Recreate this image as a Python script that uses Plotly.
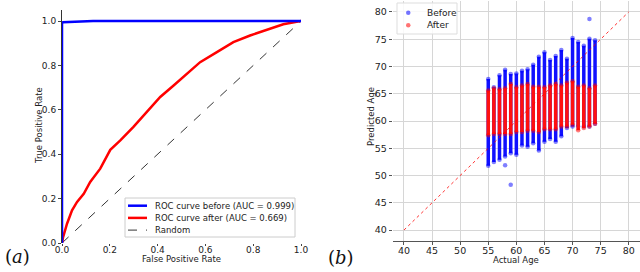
import plotly.graph_objects as go

# ---------- Panel (a): ROC curves ----------
roc_before_fpr = [0.0, 0.0, 0.0, 0.004, 0.13, 1.0]
roc_before_tpr = [0.0, 0.75, 0.99, 0.995, 1.0, 1.0]

roc_after_fpr = [0.0, 0.004, 0.021, 0.042, 0.063, 0.091, 0.118, 0.160, 0.202, 0.244,
                 0.299, 0.355, 0.411, 0.467, 0.522, 0.578, 0.648, 0.717, 0.787, 0.857,
                 0.926, 1.0]
roc_after_tpr = [0.0, 0.024, 0.087, 0.147, 0.185, 0.222, 0.275, 0.335, 0.420, 0.462,
                 0.523, 0.590, 0.658, 0.710, 0.763, 0.815, 0.860, 0.905, 0.935, 0.962,
                 0.986, 1.0]

random_x = [0, 1]
random_y = [0, 1]

legend_a_labels = ["ROC curve before (AUC = 0.999)", "ROC curve after (AUC = 0.669)", "Random"]

# ---------- Panel (b): predicted vs actual age ----------
ages = list(range(55, 75))
before_lo = [51.8, 52.5, 52.9, 53.5, 54.1, 53.8, 55.5, 55.3, 55.9, 54.6,
             56.2, 56.7, 56.2, 57.2, 58.7, 59.0, 59.0, 59.0, 59.0, 59.5]
before_hi = [67.7, 66.2, 68.4, 69.4, 68.6, 68.7, 69.2, 69.5, 70.3, 71.8,
             72.6, 71.2, 71.9, 73.0, 71.4, 75.2, 74.5, 73.8, 75.1, 74.8]
after_lo = [57.4, 57.6, 57.6, 57.6, 57.6, 58.0, 58.0, 58.2, 58.2, 58.0,
            58.5, 58.5, 58.5, 59.0, 59.0, 59.3, 58.3, 58.7, 59.0, 59.5]
after_hi = [65.6, 66.0, 65.8, 66.0, 66.8, 66.2, 66.5, 66.8, 66.3, 66.3,
            66.2, 66.5, 66.8, 66.5, 67.0, 67.3, 66.3, 66.5, 66.0, 66.5]
outlier_age = [59, 73, 58]
outlier_pred = [48.3, 78.7, 51.9]
diag = [40, 80]

legend_b_labels = ["Before", "After"]

x_ticks_b = [40, 45, 50, 55, 60, 65, 70, 75, 80]
y_ticks_b = [40, 45, 50, 55, 60, 65, 70, 75, 80]
ticks_a = [0.0, 0.2, 0.4, 0.6, 0.8, 1.0]


def segments(xs, lo, hi):
    sx, sy = [], []
    for a, l, h in zip(xs, lo, hi):
        sx += [a, a, None]
        sy += [l, h, None]
    return sx, sy


W, H = 640, 272
BLUE = "#0000ff"
RED = "#ff0000"


def px(x):
    return x / W


def py(y):
    return (H - y) / H


fig = go.Figure()

# (a)
fig.add_trace(go.Scatter(x=random_x, y=random_y, mode="lines",
                         line=dict(color="black", width=0.8, dash="dash"),
                         showlegend=False, xaxis="x", yaxis="y"))
fig.add_trace(go.Scatter(x=roc_after_fpr, y=roc_after_tpr, mode="lines",
                         line=dict(color=RED, width=2.5),
                         showlegend=False, xaxis="x", yaxis="y"))
fig.add_trace(go.Scatter(x=roc_before_fpr, y=roc_before_tpr, mode="lines",
                         line=dict(color=BLUE, width=2.5),
                         showlegend=False, xaxis="x", yaxis="y"))

# (b)
bx, by = segments(ages, before_lo, before_hi)
fig.add_trace(go.Scatter(x=bx, y=by, mode="lines+markers",
                         line=dict(color="#1010ff", width=3.5),
                         marker=dict(color="rgba(0,0,255,0.5)", size=4.5),
                         showlegend=False, xaxis="x2", yaxis="y2"))
fig.add_trace(go.Scatter(x=outlier_age, y=outlier_pred, mode="markers",
                         marker=dict(color="rgba(0,0,255,0.5)", size=4.5),
                         showlegend=False, xaxis="x2", yaxis="y2"))
ax_, ay_ = segments(ages, after_lo, after_hi)
fig.add_trace(go.Scatter(x=ax_, y=ay_, mode="lines+markers",
                         line=dict(color="#ff1010", width=3.5),
                         marker=dict(color="rgba(255,0,0,0.5)", size=4.5),
                         showlegend=False, xaxis="x2", yaxis="y2"))
fig.add_trace(go.Scatter(x=diag, y=diag, mode="lines",
                         line=dict(color="rgba(255,0,0,0.8)", width=1, dash="dot"),
                         showlegend=False, xaxis="x2", yaxis="y2"))

font = "DejaVu Sans"
TXT = "#222"

shapes = []
annotations = []

# --- manual legend for (a) ---
shapes.append(dict(type="rect", xref="paper", yref="paper",
                   x0=px(125), x1=px(295), y0=py(237), y1=py(198),
                   line=dict(color="#cccccc", width=1), fillcolor="rgba(255,255,255,0.9)",
                   layer="above"))
leg_a_styles = [dict(color=BLUE, width=2.5), dict(color=RED, width=2.5),
                dict(color="black", width=0.8, dash="dash")]
for i, (lab, st) in enumerate(zip(legend_a_labels, leg_a_styles)):
    yy = 205.7 + i * 12.2
    shapes.append(dict(type="line", xref="paper", yref="paper",
                       x0=px(128), x1=px(147), y0=py(yy), y1=py(yy), line=st, layer="above"))
    annotations.append(dict(text=lab, x=px(153), y=py(yy), xref="paper", yref="paper",
                            xanchor="left", yanchor="middle", showarrow=False,
                            font=dict(family=font, size=8.5, color=TXT)))

# --- manual legend for (b) ---
shapes.append(dict(type="rect", xref="paper", yref="paper",
                   x0=px(397), x1=px(457), y0=py(34), y1=py(3),
                   line=dict(color="#dddddd", width=1), fillcolor="rgba(255,255,255,0.85)",
                   layer="above"))
leg_b_colors = ["rgba(0,0,255,0.55)", "rgba(255,0,0,0.55)"]
for i, (lab, col) in enumerate(zip(legend_b_labels, leg_b_colors)):
    yy = 12.7 + i * 12.6
    shapes.append(dict(type="circle", xref="paper", yref="paper",
                       x0=px(406), x1=px(410.5), y0=py(yy + 2.25), y1=py(yy - 2.25),
                       line=dict(width=0), fillcolor=col, layer="above"))
    annotations.append(dict(text=lab, x=px(425), y=py(yy), xref="paper", yref="paper",
                            xanchor="left", yanchor="middle", showarrow=False,
                            font=dict(family=font, size=9, color=TXT)))

# --- axis titles ---
annotations += [
    dict(text="False Positive Rate", x=px(181), y=py(259), xref="paper", yref="paper",
         xanchor="center", yanchor="middle", showarrow=False,
         font=dict(family=font, size=8.5, color=TXT)),
    dict(text="True Positive Rate", x=px(39), y=py(126), xref="paper", yref="paper",
         xanchor="center", yanchor="middle", showarrow=False, textangle=-90,
         font=dict(family=font, size=8.5, color=TXT)),
    dict(text="Actual Age", x=px(516), y=py(259.5), xref="paper", yref="paper",
         xanchor="center", yanchor="middle", showarrow=False,
         font=dict(family=font, size=8.5, color=TXT)),
    dict(text="Predicted Age", x=px(371), y=py(117), xref="paper", yref="paper",
         xanchor="center", yanchor="middle", showarrow=False, textangle=-90,
         font=dict(family=font, size=8.5, color=TXT)),
    dict(text="(<i>a</i>)", x=px(17), y=py(256), xref="paper", yref="paper",
         xanchor="center", yanchor="middle", showarrow=False,
         font=dict(family="DejaVu Serif", size=18, color="#111")),
    dict(text="(<i>b</i>)", x=px(341), y=py(257), xref="paper", yref="paper",
         xanchor="center", yanchor="middle", showarrow=False,
         font=dict(family="DejaVu Serif", size=18, color="#111")),
]

fig.update_layout(
    width=W, height=H,
    margin=dict(l=0, r=0, t=0, b=0, autoexpand=False),
    paper_bgcolor="white", plot_bgcolor="white",
    font=dict(family=font, size=9, color=TXT),
    showlegend=False,
    xaxis=dict(domain=[px(62), px(301)], range=[0, 1], tickvals=ticks_a,
               ticktext=["0.0", "0.2", "0.4", "0.6", "0.8", "1.0"],
               showgrid=False, zeroline=False, showline=False,
               ticks="outside", ticklen=2, tickcolor="#444", automargin=False,
               ticklabelstandoff=-4,
               anchor="y", tickfont=dict(size=9)),
    yaxis=dict(domain=[py(243), py(10)], range=[0, 1.05], tickvals=ticks_a,
               ticktext=["0.0", "0.2", "0.4", "0.6", "0.8", "1.0"],
               showgrid=False, zeroline=False, showline=True, linecolor="#333", linewidth=1,
               ticks="outside", ticklen=3, tickcolor="#444", automargin=False,
               anchor="x", tickfont=dict(size=9)),
    xaxis2=dict(domain=[px(392.7), 1.0], range=[38, 82], tickvals=x_ticks_b,
                showgrid=True, gridcolor="#d6d6d6", gridwidth=1, zeroline=False,
                showline=True, linecolor="#555", linewidth=1,
                ticks="outside", ticklen=3, tickcolor="#555", automargin=False,
                ticklabelstandoff=-2,
                anchor="y2", tickfont=dict(size=9.5)),
    yaxis2=dict(domain=[py(241), py(1)], range=[38, 82], tickvals=y_ticks_b,
                showgrid=True, gridcolor="#d6d6d6", gridwidth=1, zeroline=False,
                showline=False, ticks="outside", ticklen=3, tickcolor="#555",
                automargin=False, anchor="x2", tickfont=dict(size=9.5)),
    shapes=shapes,
    annotations=annotations,
)

fig.write_html(
    "out.html",
    config={"displayModeBar": False},
    post_script="document.body.style.margin='0';document.body.style.overflow='hidden';",
)
